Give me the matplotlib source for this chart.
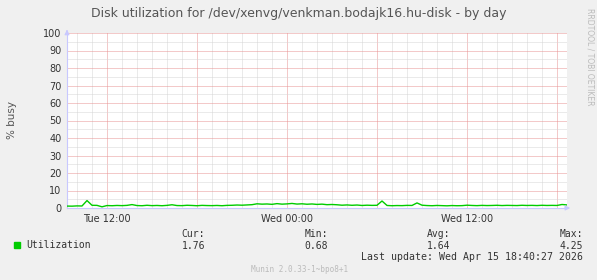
import numpy as np
import matplotlib.pyplot as plt
from matplotlib.ticker import FixedLocator

# --- data (hours since Tue 00:00, one sample every 20 min) ---
t_start = 9 + 1/3.
t_step = 1/3.
util = [
    1.10, 1.05, 1.20, 1.15, 4.25, 1.55, 1.50, 0.68, 1.40, 1.30,
    1.45, 1.35, 1.50, 1.95, 1.40, 1.30, 1.55, 1.35, 1.45, 1.30,
    1.50, 1.85, 1.40, 1.35, 1.55, 1.45, 1.30, 1.50, 1.40, 1.35,
    1.45, 1.30, 1.50, 1.55, 1.70, 1.60, 1.75, 1.90, 2.40, 2.20,
    2.30, 2.10, 2.50, 2.20, 2.35, 2.60, 2.25, 2.40, 2.15, 2.30,
    2.05, 2.20, 1.90, 2.00, 1.85, 1.60, 1.75, 1.55, 1.70, 1.45,
    1.60, 1.50, 1.55, 4.00, 1.45, 1.30, 1.40, 1.35, 1.50, 1.45,
    2.90, 1.60, 1.40, 1.30, 1.45, 1.35, 1.25, 1.40, 1.30, 1.35,
    1.60, 1.45, 1.35, 1.50, 1.40, 1.45, 1.55, 1.40, 1.50, 1.45,
    1.40, 1.55, 1.45, 1.50, 1.40, 1.55, 1.45, 1.50, 1.45, 2.00, 1.76,
]
hours = t_start + t_step * np.arange(len(util))
t_end = hours[-1]

tick_pos = [12, 24, 36]
tick_lab = ["Tue 12:00", "Wed 00:00", "Wed 12:00"]

stats_names = ["Cur:", "Min:", "Avg:", "Max:"]
stats_vals = ["1.76", "0.68", "1.64", "4.25"]

title = "Disk utilization for /dev/xenvg/venkman.bodajk16.hu-disk - by day"

bg = "#F0F0F0"
green = "#00CC00"
axcol = "#C8C8FF"
txt = "#333333"

fig = plt.figure(figsize=(5.97, 2.80), dpi=100, facecolor=bg)
ax = fig.add_axes([67/597., 1-208/280., 500/597., 175/280.])
ax.set_facecolor("white")

ax.plot(hours, util, color=green, lw=1.0, zorder=3)

ax.set_xlim(t_start, t_end)
ax.set_ylim(0, 100)

# rrdtool style grid: minor every hour / 5 %, major every 6 h / 10 %
maj_x = [h for h in range(10, 43) if h % 6 == 0]
min_x = [h for h in range(10, 43) if h % 6 != 0]
maj_y = list(range(0, 101, 10))
min_y = list(range(5, 100, 10))
ax.set_xticks(maj_x)
ax.set_xticklabels([tick_lab[tick_pos.index(v)] if v in tick_pos else "" for v in maj_x])
ax.xaxis.set_minor_locator(FixedLocator(min_x))
ax.set_yticks(maj_y)
ax.yaxis.set_minor_locator(FixedLocator(min_y))
ax.grid(which="minor", color="#D6D6D6", ls=(0, (1, 1)), lw=0.72)
ax.grid(which="major", color="#E89494", ls=(0, (1, 1)), lw=0.72)

ax.tick_params(axis="both", which="both", length=0, labelsize=7, colors=txt)
ax.tick_params(axis="y", pad=4)
ax.tick_params(axis="x", pad=4)

for s in ["top", "right"]:
    ax.spines[s].set_visible(False)
for s in ["left", "bottom"]:
    ax.spines[s].set_color(axcol)
    ax.spines[s].set_linewidth(0.8)

# arrows at axis ends
ax.annotate("", xy=(1.012, 0), xytext=(0.99, 0), xycoords="axes fraction",
            arrowprops=dict(arrowstyle="-|>", color=axcol, lw=0.8, mutation_scale=7),
            annotation_clip=False)
ax.annotate("", xy=(0, 1.035), xytext=(0, 0.99), xycoords="axes fraction",
            arrowprops=dict(arrowstyle="-|>", color=axcol, lw=0.8, mutation_scale=7),
            annotation_clip=False)

fig.text(0.5, 1-14/280., title, ha="center", va="center", fontsize=9, color="#555555")
fig.text(12/597., 1-120/280., "% busy", rotation=90, ha="center", va="center",
         fontsize=7.5, color="#555555")
fig.text(590/597., 1-57/280., "RRDTOOL / TOBI OETIKER", rotation=-90, ha="center", va="center",
         fontsize=5.5, color="#BBBBBB")

# legend area
mono = "DejaVu Sans Mono"
fig.patches.append(plt.Rectangle((14/597., 1-248/280.), 6/597., 6/280.,
                                 transform=fig.transFigure, color=green))
fig.text(26/597., 1-245/280., "Utilization", ha="left", va="center",
         fontsize=7, family=mono, color=txt)
stat_x = [205, 328, 450, 583]
for xx, nm, vv in zip(stat_x, stats_names, stats_vals):
    fig.text(xx/597., 1-234/280., nm, ha="right", va="center", fontsize=7, family=mono, color=txt)
    fig.text(xx/597., 1-246/280., vv, ha="right", va="center", fontsize=7, family=mono, color=txt)
fig.text(583/597., 1-257/280., "Last update: Wed Apr 15 18:40:27 2026", ha="right", va="center",
         fontsize=7.1, family=mono, color=txt)
fig.text(300/597., 1-269/280., "Munin 2.0.33-1~bpo8+1", ha="center", va="center",
         fontsize=5.5, family=mono, color="#BBBBBB")

fig.savefig("out.png", dpi=100, facecolor=bg)
